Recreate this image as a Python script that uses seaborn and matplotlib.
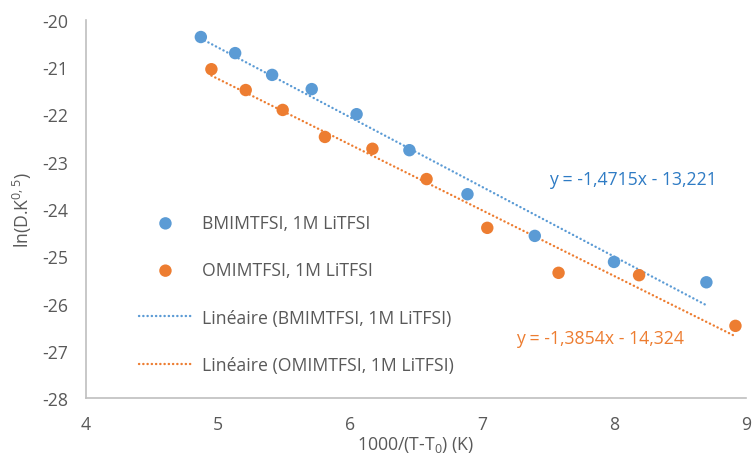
import matplotlib
matplotlib.use("Agg")
import matplotlib.pyplot as plt
import seaborn as sns
import pandas as pd
import numpy as np

# Data
bmim_x = [4.87, 5.13, 5.41, 5.71, 6.05, 6.45, 6.89, 7.40, 8.00, 8.70]
bmim_y = [-20.37, -20.71, -21.17, -21.47, -22.00, -22.76, -23.69, -24.57, -25.12, -25.55]
omim_x = [4.95, 5.21, 5.49, 5.81, 6.17, 6.58, 7.04, 7.58, 8.19, 8.92]
omim_y = [-21.05, -21.49, -21.91, -22.48, -22.73, -23.37, -24.40, -25.35, -25.40, -26.47]

series_names = ["BMIMTFSI, 1M LiTFSI", "OMIMTFSI, 1M LiTFSI"]
trend_names = ["Linéaire (BMIMTFSI, 1M LiTFSI)", "Linéaire (OMIMTFSI, 1M LiTFSI)"]
equations = ["y = -1,4715x - 13,221", "y = -1,3854x - 14,324"]
x_ticks = [4, 5, 6, 7, 8, 9]
y_ticks = [-28, -27, -26, -25, -24, -23, -22, -21, -20]

blue = "#5B9BD5"
orange = "#ED7D31"
blue_text = "#2E7BC4"
grey_text = "#595959"
FS = 12.7

sns.set_theme(style="white")
plt.rcParams["font.family"] = ["Open Sans", "DejaVu Sans"]
plt.rcParams["mathtext.default"] = "regular"
plt.rcParams["axes.unicode_minus"] = False

fig = plt.figure(figsize=(7.53, 4.56), dpi=100)
ax = fig.add_axes([86/753, 1 - 399.3/456, (746-86)/753, (399.3-20.5)/456])

df_b = pd.DataFrame({"x": bmim_x, "y": bmim_y})
df_o = pd.DataFrame({"x": omim_x, "y": omim_y})

sns.scatterplot(data=df_b, x="x", y="y", ax=ax, color=blue, s=80, edgecolor="none", zorder=3)
sns.scatterplot(data=df_o, x="x", y="y", ax=ax, color=orange, s=80, edgecolor="none", zorder=3)
h_b = ax.collections[0]
h_o = ax.collections[1]

line_style = dict(linestyle=(0, (0.1, 1.7)), linewidth=1.7, dash_capstyle="round")
sns.regplot(data=df_b, x="x", y="y", ax=ax, scatter=False, ci=None, color=blue,
            line_kws=line_style)
l_b = ax.lines[-1]
sns.regplot(data=df_o, x="x", y="y", ax=ax, scatter=False, ci=None, color=orange,
            line_kws=line_style)
l_o = ax.lines[-1]

ax.set_xlim(4, 9)
ax.set_ylim(-28, -20)
ax.set_xticks(x_ticks)
ax.set_yticks(y_ticks)
ax.tick_params(axis="x", length=0, labelsize=FS, labelcolor=grey_text, pad=12)
ax.tick_params(axis="y", length=0, labelsize=FS, labelcolor=grey_text, pad=13)
for side in ["top", "right"]:
    ax.spines[side].set_visible(False)
for side in ["left", "bottom"]:
    ax.spines[side].set_color("#BFBFBF")
    ax.spines[side].set_linewidth(1.2)

ax.set_xlabel("1000/(T-T$_0$) (K)", fontsize=FS, color=grey_text, labelpad=1)
ax.set_ylabel("ln(D.K$^{0,5}$)", fontsize=FS, color=grey_text, labelpad=6)

fig.text(549/753, 1 - 180/456, equations[0], color=blue_text, fontsize=FS,
         ha="left", va="center")
fig.text(516/753, 1 - 339/456, equations[1], color=orange, fontsize=FS,
         ha="left", va="center")

leg = ax.legend([h_b, h_o, l_b, l_o], series_names + trend_names,
                loc="upper left", bbox_to_anchor=(139/753, 1 - 215/456),
                bbox_transform=fig.transFigure, frameon=False, fontsize=FS,
                handlelength=3.0, handletextpad=0.57, labelspacing=1.66,
                borderpad=0, borderaxespad=0, labelcolor=grey_text)

fig.savefig("out.png", dpi=100)
